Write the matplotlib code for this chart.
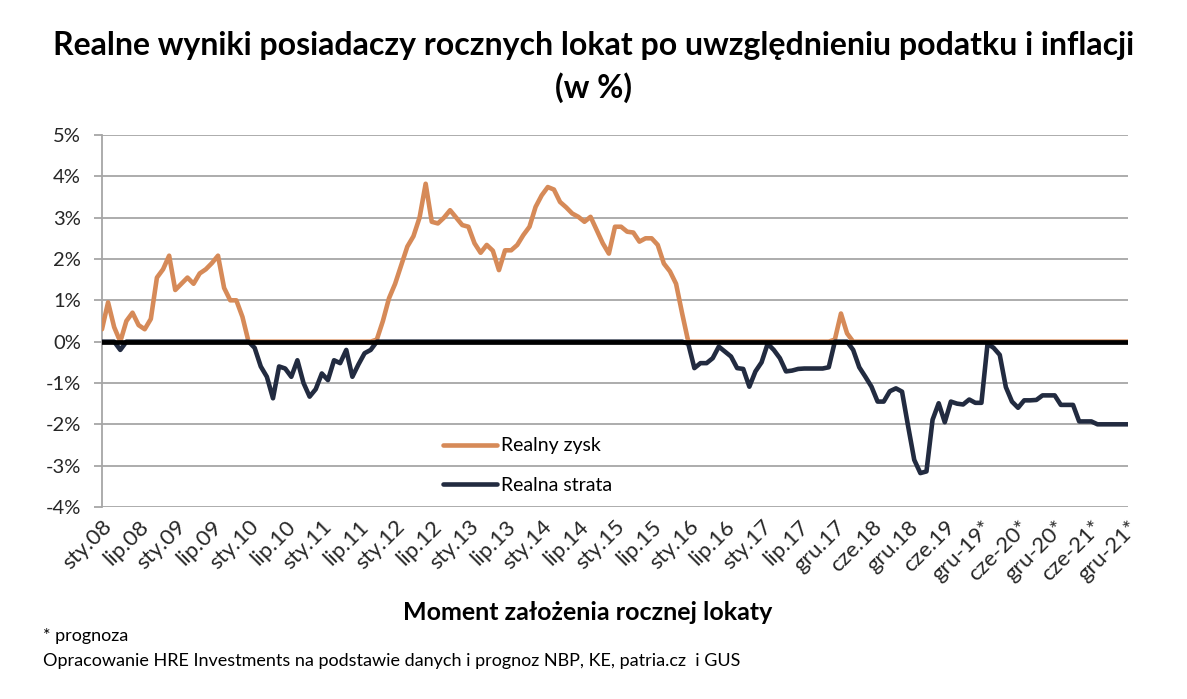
import numpy as np
import matplotlib
matplotlib.use('Agg')
import matplotlib.pyplot as plt

# wynik realny lokaty (w %), miesiecznie od sty.08
wynik = [
    0.3, 0.95, 0.35, -0.2, 0.5, 0.7, 0.4, 0.3, 0.55, 1.55, 1.75, 2.08,
    1.25, 1.4, 1.55, 1.4, 1.65, 1.75, 1.9, 2.08, 1.3, 1.0, 1.0, 0.6,
    0.0, -0.15, -0.6, -0.85, -1.37, -0.6, -0.65, -0.85, -0.45, -1.0, -1.33, -1.15,
    -0.77, -0.93, -0.45, -0.52, -0.2, -0.85, -0.55, -0.28, -0.2, 0.05, 0.5, 1.05,
    1.4, 1.85, 2.3, 2.55, 3.0, 3.82, 2.9, 2.86, 3.0, 3.18, 3.0, 2.82,
    2.78, 2.38, 2.15, 2.34, 2.2, 1.73, 2.21, 2.21, 2.34, 2.58, 2.78, 3.26,
    3.54, 3.74, 3.68, 3.38, 3.25, 3.1, 3.02, 2.9, 3.02, 2.7, 2.38, 2.13,
    2.78, 2.78, 2.66, 2.64, 2.42, 2.5, 2.5, 2.34, 1.89, 1.7, 1.4, 0.68,
    -0.05, -0.64, -0.52, -0.52, -0.4, -0.12, -0.24, -0.36, -0.64, -0.66, -1.09, -0.72,
    -0.5, -0.05, -0.2, -0.4, -0.72, -0.7, -0.66, -0.65, -0.65, -0.65, -0.65, -0.62,
    0.05, 0.68, 0.2, -0.2, -0.62, -0.85, -1.09, -1.45, -1.45, -1.2, -1.13, -1.21,
    -2.05, -2.86, -3.18, -3.14, -1.89, -1.49, -1.95, -1.45, -1.5, -1.52, -1.4, -1.48,
    -1.48, -0.05, -0.15, -0.32, -1.1, -1.45, -1.6, -1.42, -1.42, -1.41, -1.3, -1.3,
    -1.3, -1.53, -1.53, -1.53, -1.93, -1.93, -1.93, -2.0, -2.0, -2.0, -2.0, -2.0,
    -2.0,
]

etykiety = ['sty.08', 'lip.08', 'sty.09', 'lip.09', 'sty.10', 'lip.10', 'sty.11',
            'lip.11', 'sty.12', 'lip.12', 'sty.13', 'lip.13', 'sty.14', 'lip.14',
            'sty.15', 'lip.15', 'sty.16', 'lip.16', 'sty.17', 'lip.17', 'gru.17',
            'cze.18', 'gru.18', 'cze.19', 'gru-19*', 'cze-20*', 'gru-20*',
            'cze-21*', 'gru-21*']

plt.rcParams['font.family'] = ['Lato', 'DejaVu Sans']

wynik = np.array(wynik)
x = np.arange(len(wynik))
zysk = np.maximum(wynik, 0)
strata = np.minimum(wynik, 0)

fig = plt.figure(figsize=(11.87, 6.99), dpi=100)
ax = fig.add_axes([0.0859, 0.2747, 0.8644, 0.5322])

grey = '#A6A6A6'
ax.plot(x, zysk, color='#D68A58', lw=3.3, label='Realny zysk', zorder=3,
        solid_capstyle='round', solid_joinstyle='round')
ax.plot(x, strata, color='#222B40', lw=3.3, label='Realna strata', zorder=3,
        solid_capstyle='round', solid_joinstyle='round')
ax.axhline(0, color='black', lw=3.4, zorder=4)

ax.set_xlim(0, len(wynik) - 1)
ax.set_ylim(-4, 5)
ax.set_yticks(range(-4, 6))
ax.set_yticklabels([f'{v}%' for v in range(-4, 6)])
ax.yaxis.grid(True, color=grey, lw=1.3)
ax.set_axisbelow(True)

ax.set_xticks(x[::6])
ax.set_xticklabels(etykiety, rotation=45, ha='right', rotation_mode='anchor')

for s in ['top', 'right', 'bottom']:
    ax.spines[s].set_visible(False)
ax.spines['left'].set_color(grey)
ax.spines['left'].set_linewidth(1.3)
ax.tick_params(axis='y', length=6, width=1.3, color=grey, labelsize=14.5,
               labelcolor='#262626', pad=9)
ax.tick_params(axis='x', length=0, labelsize=16, labelcolor='#262626', pad=7)

ax.legend(loc='upper left', bbox_to_anchor=(425 / 1187, 1 - 420 / 699),
          bbox_transform=fig.transFigure, frameon=False, fontsize=14,
          handlelength=2.8, handletextpad=0.2, labelspacing=1.15)

fig.text(0.5, 1 - 45 / 699,
         'Realne wyniki posiadaczy rocznych lokat po uwzględnieniu podatku i inflacji',
         ha='center', va='center', fontsize=23, weight='bold')
fig.text(0.5, 1 - 88 / 699, '(w %)', ha='center', va='center', fontsize=23,
         weight='bold')
fig.text(588 / 1187, 1 - 612 / 699, 'Moment założenia rocznej lokaty',
         ha='center', va='center', fontsize=18, weight='bold')
fig.text(43 / 1187, 1 - 636 / 699, '* prognoza', ha='left', va='center',
         fontsize=13)
fig.text(43 / 1187, 1 - 661 / 699,
         'Opracowanie HRE Investments na podstawie danych i prognoz NBP, KE, patria.cz  i GUS',
         ha='left', va='center', fontsize=13)

fig.savefig('out.png', dpi=100)
